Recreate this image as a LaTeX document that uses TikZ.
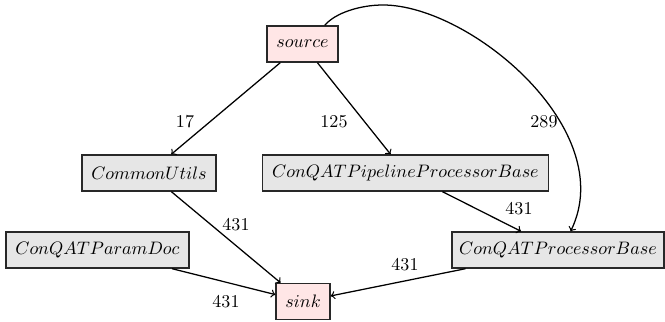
\documentclass[tikz,border=0pt]{standalone}
\usepackage{tikz}
\definecolor{pinkfill}{RGB}{255,230,230}
\definecolor{grayfill}{RGB}{230,230,230}
\definecolor{boxline}{RGB}{40,40,40}
\tikzset{
  vbox/.style={draw=boxline, line width=0.8pt, rectangle, minimum height=19.9pt, inner xsep=2pt, inner ysep=0pt},
  endbox/.style={vbox, fill=pinkfill},
  clsbox/.style={vbox, fill=grayfill},
  edge/.style={->, line width=0.7pt},
  elabel/.style={inner sep=0pt, font=\normalsize}
}
\begin{document}
\begin{tikzpicture}[x=0.554pt, y=-0.554pt]
\useasboundingbox (0,0) rectangle (665,321);
\node[endbox, minimum width=39.3pt] (source) at (302.5,44) {$source$};
\node[clsbox, minimum width=74.2pt] (cu) at (149,173) {$CommonUtils$};
\node[clsbox, minimum width=158.4pt] (pipe) at (405.5,173) {$ConQATPipelineProcessorBase$};
\node[clsbox, minimum width=101.4pt] (pdoc) at (97.5,250) {$ConQATParamDoc$};
\node[clsbox, minimum width=117.4pt] (pb) at (558,250) {$ConQATProcessorBase$};
\node[endbox, minimum width=29.9pt] (sink) at (303,301.5) {$sink$};

\draw[edge] (source) -- (cu);
\draw[edge] (source) -- (pipe);
\draw[edge] (source.40) .. controls (335,13) and (360,5) .. (383,5)
  .. controls (470,5) and (620,130) .. (pb.56);
\draw[edge] (cu) -- (sink);
\draw[edge] (pdoc) -- (sink);
\draw[edge] (pipe) -- (pb);
\draw[edge] (pb) -- (sink);

\node[elabel] (l1) at (185,122) {17};
\node[elabel] (l2) at (334,122) {125};
\node[elabel] (l3) at (544,122) {289};
\node[elabel] (l4) at (236,225) {431};
\node[elabel] (l5) at (226,302) {431};
\node[elabel] (l6) at (519,209) {431};
\node[elabel] (l7) at (405,265) {431};
\end{tikzpicture}
\end{document}
